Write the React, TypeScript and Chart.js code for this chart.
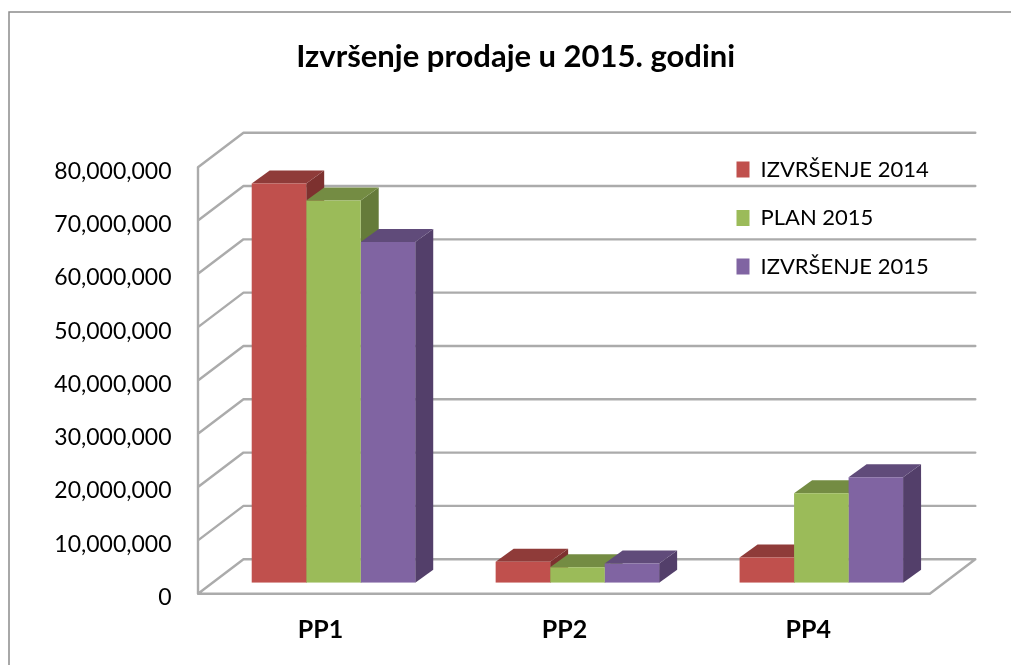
import React, { useEffect, useRef } from "react";
import { Chart, registerables } from "chart.js";

Chart.register(...registerables);

const categories = ["PP1", "PP2", "PP4"];
const izvrsenje2014 = [74900000, 3940000, 4750000];
const plan2015 = [71700000, 2900000, 16800000];
const izvrsenje2015 = [63900000, 3600000, 19800000];
const titleText = "Izvršenje prodaje u 2015. godini";
const seriesLabels = ["IZVRŠENJE 2014", "PLAN 2015", "IZVRŠENJE 2015"];
const frontColors = ["#C0504D", "#9BBB59", "#8064A2"];
const topColors = ["#8F3B39", "#748C43", "#604B7A"];
const sideColors = ["#7D312F", "#657B3A", "#533F6A"];

const FONT = "Lato, Carlito, Calibri, sans-serif";
const GRID = "#ABABAB";
// 3D projection, in pixels, relative to the plane the bars stand on
const barDepth = { dx: 18, dy: 13 };
const frontShift = { dx: -13.5, dy: 11 };
const backShift = { dx: 32, dy: -23.5 };

const scene3d = {
  id: "scene3d",
  afterLayout(chart: any) {
    if (chart.legend) {
      const pad = chart.legend.options.labels.padding;
      chart.legend.left = 736.5 - pad;
      chart.legend.top = 158.5 - pad;
    }
    if (chart.titleBlock) chart.titleBlock.left = 88;
  },
  beforeDraw(chart: any) {
    const { ctx, chartArea, scales } = chart;
    ctx.save();
    ctx.fillStyle = "#fff";
    ctx.fillRect(0, 0, chart.width, chart.height);
    ctx.strokeStyle = "#8C8C8C";
    ctx.lineWidth = 1.5;
    ctx.beginPath();
    ctx.moveTo(9, chart.height);
    ctx.lineTo(9, 12);
    ctx.lineTo(chart.width, 12);
    ctx.stroke();

    const xf = chartArea.left + frontShift.dx;
    const xb = chartArea.left + backShift.dx;
    const xfr = chartArea.right + frontShift.dx;
    const xbr = chartArea.right + backShift.dx;
    ctx.strokeStyle = GRID;
    ctx.lineWidth = 2.4;
    ctx.lineJoin = "round";
    ctx.lineCap = "round";
    ctx.beginPath();
    for (const t of scales.y.ticks) {
      const y = scales.y.getPixelForValue(t.value);
      ctx.moveTo(xf, y + frontShift.dy);
      ctx.lineTo(xb, y + backShift.dy);
      ctx.lineTo(xbr, y + backShift.dy);
    }
    const y0 = scales.y.getPixelForValue(0);
    const yT = scales.y.getPixelForValue(scales.y.max);
    ctx.moveTo(xf, yT + frontShift.dy);
    ctx.lineTo(xf, y0 + frontShift.dy);
    ctx.lineTo(xfr, y0 + frontShift.dy);
    ctx.lineTo(xbr, y0 + backShift.dy);
    ctx.stroke();
    ctx.restore();
  },
  beforeDatasetsDraw(chart: any) {
    const { ctx } = chart;
    const { dx, dy } = barDepth;
    ctx.save();
    chart.data.datasets.forEach((_: any, di: number) => {
      chart.getDatasetMeta(di).data.forEach((bar: any) => {
        const x1 = bar.x - bar.width / 2;
        const x2 = bar.x + bar.width / 2;
        const top = bar.y;
        const base = bar.base;
        ctx.fillStyle = sideColors[di];
        ctx.beginPath();
        ctx.moveTo(x2, top);
        ctx.lineTo(x2 + dx, top - dy);
        ctx.lineTo(x2 + dx, base - dy);
        ctx.lineTo(x2, base);
        ctx.closePath();
        ctx.fill();
        ctx.fillStyle = topColors[di];
        ctx.beginPath();
        ctx.moveTo(x1, top);
        ctx.lineTo(x1 + dx, top - dy);
        ctx.lineTo(x2 + dx, top - dy);
        ctx.lineTo(x2, top);
        ctx.closePath();
        ctx.fill();
      });
    });
    ctx.restore();
  },
};

export default function App() {
  const ref = useRef<HTMLCanvasElement>(null);
  useEffect(() => {
    document.body.style.margin = "0";
    const chart = new Chart(ref.current as HTMLCanvasElement, {
      type: "bar",
      data: {
        labels: categories,
        datasets: [izvrsenje2014, plan2015, izvrsenje2015].map((data, i) => ({
          label: seriesLabels[i],
          data,
          backgroundColor: frontColors[i],
          borderWidth: 0,
          barPercentage: 1,
          categoryPercentage: 0.6703,
        })),
      },
      options: {
        responsive: false,
        animation: false,
        layout: { padding: { left: 0, top: 0, right: 67.7, bottom: 0 } },
        plugins: {
          title: {
            display: true,
            text: titleText,
            color: "#000",
            font: { family: FONT, size: 31, weight: "bold", lineHeight: 1.2 },
            padding: { top: 38.4, bottom: 80.6 },
          },
          legend: {
            position: "chartArea",
            align: "start",
            labels: {
              font: { family: FONT, size: 22 },
              color: "#000",
              boxWidth: 13,
              boxHeight: 16,
              padding: 26.5,
            },
          },
          tooltip: { enabled: false },
        },
        scales: {
          x: {
            grid: { display: false },
            border: { display: false },
            afterFit(s: any) {
              s.height = 82.3;
            },
            ticks: {
              color: "#000",
              font: { family: FONT, size: 25, weight: "bold" },
              padding: 24,
              labelOffset: -13,
              maxRotation: 0,
            },
          },
          y: {
            min: 0,
            max: 80000000,
            grid: { display: false },
            border: { display: false },
            afterFit(s: any) {
              s.width = 211.5;
            },
            ticks: {
              stepSize: 10000000,
              color: "#000",
              font: { family: FONT, size: 23 },
              padding: 32,
              labelOffset: 15,
              callback: (v: any) => Number(v).toLocaleString("en-US"),
            },
          },
        },
      } as any,
      plugins: [scene3d],
    });
    return () => chart.destroy();
  }, []);
  return <canvas ref={ref} width={1011} height={665} style={{ display: "block" }} />;
}
